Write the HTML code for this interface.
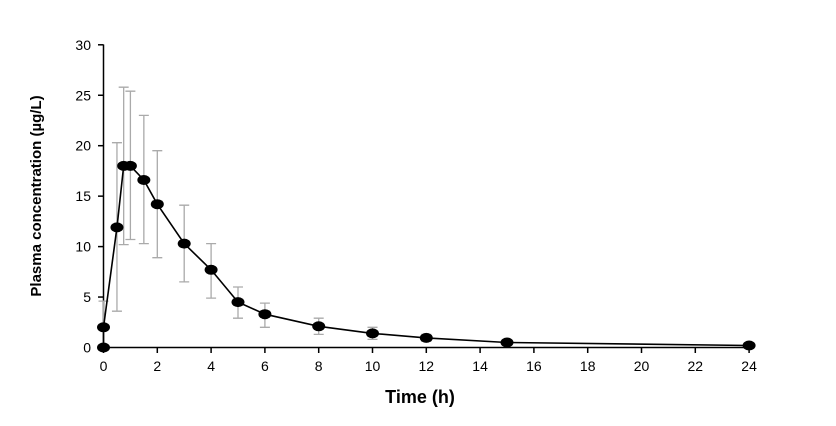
<!DOCTYPE html>
<html><head><style>body{margin:0;background:#fff}svg{display:block}</style></head><body>
<svg width="836" height="426" xmlns="http://www.w3.org/2000/svg" font-family="Liberation Sans, sans-serif">
<g stroke="#000" stroke-width="1.5">
<line x1="103.5" y1="44.5" x2="103.5" y2="348"/>
<line x1="103" y1="347.5" x2="750" y2="347.5"/>
<line x1="98" y1="347.5" x2="103.5" y2="347.5"/><line x1="98" y1="297.05" x2="103.5" y2="297.05"/><line x1="98" y1="246.6" x2="103.5" y2="246.6"/><line x1="98" y1="196.15" x2="103.5" y2="196.15"/><line x1="98" y1="145.7" x2="103.5" y2="145.7"/><line x1="98" y1="95.25" x2="103.5" y2="95.25"/><line x1="98" y1="44.8" x2="103.5" y2="44.8"/>
<line x1="103.5" y1="347.5" x2="103.5" y2="353"/><line x1="157.3" y1="347.5" x2="157.3" y2="353"/><line x1="211.1" y1="347.5" x2="211.1" y2="353"/><line x1="264.9" y1="347.5" x2="264.9" y2="353"/><line x1="318.7" y1="347.5" x2="318.7" y2="353"/><line x1="372.5" y1="347.5" x2="372.5" y2="353"/><line x1="426.3" y1="347.5" x2="426.3" y2="353"/><line x1="480.1" y1="347.5" x2="480.1" y2="353"/><line x1="533.9" y1="347.5" x2="533.9" y2="353"/><line x1="587.7" y1="347.5" x2="587.7" y2="353"/><line x1="641.5" y1="347.5" x2="641.5" y2="353"/><line x1="695.3" y1="347.5" x2="695.3" y2="353"/><line x1="749.1" y1="347.5" x2="749.1" y2="353"/>
</g>
<g font-size="14" text-anchor="end">
<text x="91" y="352.5">0</text><text x="91" y="302">5</text><text x="91" y="251.6">10</text><text x="91" y="201.2">15</text><text x="91" y="150.7">20</text><text x="91" y="100.3">25</text><text x="91" y="49.8">30</text>
</g>
<g font-size="14" text-anchor="middle">
<text x="103.5" y="371">0</text><text x="157.3" y="371">2</text><text x="211.1" y="371">4</text><text x="264.9" y="371">6</text><text x="318.7" y="371">8</text><text x="372.5" y="371">10</text><text x="426.3" y="371">12</text><text x="480.1" y="371">14</text><text x="533.9" y="371">16</text><text x="587.7" y="371">18</text><text x="641.5" y="371">20</text><text x="695.3" y="371">22</text><text x="749.1" y="371">24</text>
</g>
<text x="420" y="403" font-size="18" font-weight="bold" text-anchor="middle">Time (h)</text>
<text transform="translate(41,196) rotate(-90)" font-size="15" font-weight="bold" text-anchor="middle">Plasma concentration (µg/L)</text>
<g stroke="#aaa" stroke-width="1.3" fill="none">
<path d="M103.5 347.5V301.1M98.5 301.1h10"/>
<path d="M116.95 311.2V142.7M111.95 311.2h10M111.95 142.7h10"/>
<path d="M123.68 244.6V87.2M118.68 244.6h10M118.68 87.2h10"/>
<path d="M130.4 239.5V91.2M125.4 239.5h10M125.4 91.2h10"/>
<path d="M143.85 243.6V115.4M138.85 243.6h10M138.85 115.4h10"/>
<path d="M157.3 257.7V150.7M152.3 257.7h10M152.3 150.7h10"/>
<path d="M184.2 281.9V205.2M179.2 281.9h10M179.2 205.2h10"/>
<path d="M211.1 298.1V243.6M206.1 298.1h10M206.1 243.6h10"/>
<path d="M238 318.2V287M233 318.2h10M233 287h10"/>
<path d="M264.9 327.3V303.1M259.9 327.3h10M259.9 303.1h10"/>
<path d="M318.7 334.4V318.2M313.7 334.4h10M313.7 318.2h10"/>
<path d="M372.5 339.4V327.3M367.5 339.4h10M367.5 327.3h10"/>
<path d="M426.3 341.4V334.4M421.3 341.4h10M421.3 334.4h10"/>
<path d="M507 344V340.4M502 344h10M502 340.4h10"/>
</g>
<polyline fill="none" stroke="#000" stroke-width="1.6" points="103.5,347.5 103.5,327.3 116.95,227.4 123.68,165.9 130.4,165.9 143.85,180 157.3,204.2 184.2,243.6 211.1,269.8 238,302.1 264.9,314.2 318.7,326.3 372.5,333.4 426.3,337.9 507,342.5 749.1,345.5"/>
<g fill="#000">
<ellipse cx="103.5" cy="347.5" rx="6.5" ry="5"/><ellipse cx="103.5" cy="327.3" rx="6.5" ry="5"/><ellipse cx="116.95" cy="227.4" rx="6.5" ry="5"/><ellipse cx="123.68" cy="165.9" rx="6.5" ry="5"/><ellipse cx="130.4" cy="165.9" rx="6.5" ry="5"/><ellipse cx="143.85" cy="180" rx="6.5" ry="5"/><ellipse cx="157.3" cy="204.2" rx="6.5" ry="5"/><ellipse cx="184.2" cy="243.6" rx="6.5" ry="5"/><ellipse cx="211.1" cy="269.8" rx="6.5" ry="5"/><ellipse cx="238" cy="302.1" rx="6.5" ry="5"/><ellipse cx="264.9" cy="314.2" rx="6.5" ry="5"/><ellipse cx="318.7" cy="326.3" rx="6.5" ry="5"/><ellipse cx="372.5" cy="333.4" rx="6.5" ry="5"/><ellipse cx="426.3" cy="337.9" rx="6.5" ry="5"/><ellipse cx="507" cy="342.5" rx="6.5" ry="5"/><ellipse cx="749.1" cy="345.5" rx="6.5" ry="5"/>
</g>
</svg>
</body></html>
